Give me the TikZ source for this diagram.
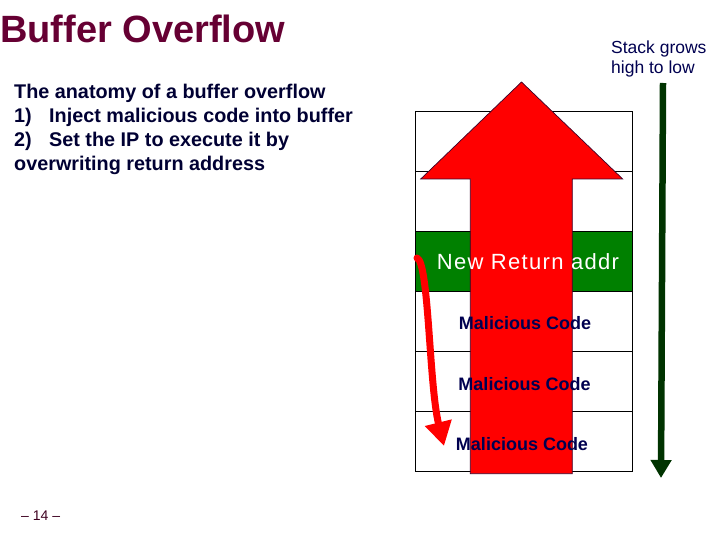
\documentclass[tikz,border=0pt]{standalone}
\usepackage{fontspec}
\setmainfont{Liberation Sans}
\usetikzlibrary{arrows.meta}
\definecolor{titlecol}{RGB}{102,0,51}
\definecolor{bodynavy}{RGB}{0,0,51}
\definecolor{codenavy}{RGB}{0,0,80}
\definecolor{rowgreen}{RGB}{0,128,0}
\definecolor{darkgreen}{RGB}{0,51,0}
\definecolor{arrowred}{RGB}{255,0,0}
\definecolor{edgedark}{RGB}{60,0,40}
\begin{document}
\begin{tikzpicture}[x=1pt,y=-1pt,
  cell/.style={draw=black,line width=0.8pt,fill=white,minimum width=217pt,minimum height=60pt,inner sep=0pt,anchor=north west},
  greencell/.style={cell,fill=rowgreen},
  bodytext/.style={anchor=base west,inner sep=0pt,text=bodynavy,font=\fontsize{19.8}{24}\selectfont\bfseries},
  codetext/.style={anchor=base,inner sep=0pt,text=codenavy,font=\fontsize{18}{22}\selectfont\bfseries},
  stacktext/.style={anchor=base west,inner sep=0pt,text=codenavy,font=\fontsize{17.5}{20}\selectfont}]
\useasboundingbox (0,0) rectangle (720,540);

% title
\node[anchor=base west,inner sep=0pt,text=titlecol,font=\fontsize{38}{40}\selectfont\bfseries] (title) at (0,43) {Buffer Overflow};

% explanation
\node[bodytext] (l1) at (14,98.3) {The anatomy of a buffer overflow};
\node[bodytext] (l2) at (14,122.3) {\makebox[35pt][l]{1)}Inject malicious code into buffer};
\node[bodytext] (l3) at (14,146.3) {\makebox[35pt][l]{2)}Set the IP to execute it by};
\node[bodytext] (l4) at (14,170.3) {overwriting return address};

% stack note
\node[stacktext] (s1) at (611,53.3) {Stack grows};
\node[stacktext] (s2) at (611,73.3) {high to low};

% stack cells
\node[cell] (r1) at (415,111) {};
\node[cell] (r2) at (415,171) {};
\node[greencell] (r3) at (415,231) {};
\node[cell] (r4) at (415,291) {};
\node[cell] (r5) at (415,351) {};
\node[cell] (r6) at (415,411) {};

% big red arrow
\filldraw[fill=arrowred,draw=edgedark,line width=0.7pt,line join=miter]
  (521.5,82) -- (622.7,179) -- (572.3,179) -- (572.3,473.7) -- (470.3,473.7) -- (470.3,179) -- (420.7,179) -- cycle;

% texts in cells
\node[anchor=base,inner sep=0pt,text=white,font=\fontsize{22}{26}\selectfont\addfontfeatures{LetterSpace=6}] (nra) at (528,269.3) {New Return addr};
\node[codetext] (m1) at (525,329) {Malicious Code};
\node[codetext] (m2) at (524.5,390) {Malicious Code};
\node[codetext] (m3) at (522,450) {Malicious Code};

% green arrow
\coordinate (gtop) at (663,83);
\coordinate (gbot) at (661,478);
\draw[darkgreen,line width=6.5pt,-{Triangle[length=18pt,width=20pt]}] (gtop) -- (gbot);

% curved red arrow
\coordinate (cstart) at (417,258);
\coordinate (ctip) at (444,446);
\draw[arrowred,line width=7pt,line cap=round,-{Triangle[length=24pt,width=26pt]}]
  (cstart) .. controls (429,262) and (429,385) .. (ctip);

% page number
\node[anchor=base west,inner sep=0pt,text=titlecol!60!black,font=\fontsize{14}{16}\selectfont] (pg) at (21,520) {– 14 –};
\end{tikzpicture}
\end{document}
